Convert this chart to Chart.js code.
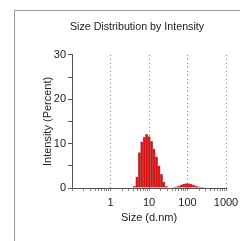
<!DOCTYPE html>
<html>
<head>
<meta charset="utf-8">
<script src="https://cdn.jsdelivr.net/npm/chart.js@4.4.1/dist/chart.umd.min.js"></script>
<style>
  html, body { margin: 0; padding: 0; background: #fff; }
  #wrap { position: relative; width: 240px; height: 241px; }
  #frame { position: absolute; left: 14px; top: 10px; width: 240px; height: 240px;
           border-top: 1px solid #9a9a9a; border-left: 1px solid #9a9a9a; }
  #chart-size { position: absolute; left: 0; top: 0; }
</style>
</head>
<body>
<div id="wrap">
  <div id="frame"></div>
  <canvas id="chart-size" width="240" height="241"></canvas>
</div>
<script>
// bin centres (d.nm) and intensity (%)
var sizes = [4.187, 4.849, 5.615, 6.503, 7.531, 8.721, 10.1, 11.7, 13.54, 15.69,
             18.17, 21.04, 24.36, 28.21, 32.67, 37.84, 43.82, 50.75, 58.77, 68.06,
             78.82, 91.28, 105.7, 122.4, 141.8, 164.2, 190.1, 220.2, 255.0];
var intensity = [0.4, 2.5, 8.0, 10.4, 11.5, 12.1, 11.6, 10.5, 8.8, 7.0,
                 5.0, 3.1, 1.4, 0.4, 0, 0, 0.1, 0.25, 0.45, 0.7,
                 0.9, 1.0, 1.0, 0.9, 0.7, 0.5, 0.3, 0.15, 0.05];
var xLabels = [1, 10, 100, 1000];
var yLabels = [0, 10, 20, 30];

Chart.defaults.font.family = "'Liberation Sans', Arial, sans-serif";
Chart.defaults.color = '#222';

function isDecade(v) {
    return xLabels.indexOf(Math.round(v * 1000) / 1000) !== -1;
}

var points = sizes.map(function(s, i) { return {x: s, y: intensity[i]}; });

var ctx = document.getElementById('chart-size');
var sizeChart = new Chart(ctx, {
    type: 'bar',
    data: {
        datasets: [{
            data: points,
            backgroundColor: '#dd1010',
            borderColor: 'rgba(110,0,0,0.5)',
            borderWidth: 0.6,
            barThickness: 'flex',
            barPercentage: 1,
            categoryPercentage: 1
        }]
    },
    options: {
        responsive: false,
        animation: false,
        layout: { padding: { left: 48, right: 14, top: 0, bottom: 16 } },
        plugins: {
            legend: { display: false },
            tooltip: { enabled: false },
            title: {
                display: true,
                text: 'Size Distribution by Intensity',
                font: { size: 10.7, weight: 'normal' },
                color: '#222',
                padding: { top: 21, bottom: 21 }
            }
        },
        scales: {
            x: {
                type: 'logarithmic',
                min: 0.1,
                max: 1000,
                offset: false,
                afterBuildTicks: function(axis) {
                    var t = [];
                    [0.1, 1, 10, 100].forEach(function(d) {
                        for (var k = 1; k < 10; k++) t.push({value: d * k});
                    });
                    t.push({value: 1000});
                    axis.ticks = t;
                },
                afterFit: function(scale) {
                    scale.height = 37;
                    scale.paddingLeft = 0;
                    scale.paddingRight = 0;
                },
                ticks: {
                    autoSkip: false,
                    maxRotation: 0,
                    padding: 5,
                    font: { size: 11 },
                    callback: function(v) { return isDecade(v) ? String(v) : ''; }
                },
                grid: {
                    offset: false,
                    drawOnChartArea: true,
                    color: function(c) {
                        return (c.tick && isDecade(c.tick.value)) ? '#777' : 'rgba(0,0,0,0)';
                    },
                    lineWidth: 1,
                    tickColor: '#888',
                    tickBorderDash: [],
                    tickLength: 3
                },
                border: { display: true, color: '#555', dash: [1, 3] },
                title: {
                    display: true,
                    text: 'Size (d.nm)',
                    font: { size: 11 },
                    padding: 0
                }
            },
            y: {
                min: 0,
                max: 30,
                afterFit: function(scale) { scale.width = 24; },
                ticks: {
                    stepSize: 5,
                    autoSkip: false,
                    padding: 2,
                    font: { size: 11 },
                    callback: function(v) { return yLabels.indexOf(v) !== -1 ? v : ''; }
                },
                grid: {
                    drawOnChartArea: false,
                    tickColor: '#555',
                    tickLength: 4
                },
                border: { display: true, color: '#555' },
                title: {
                    display: true,
                    text: 'Intensity (Percent)',
                    font: { size: 11 },
                    padding: { top: -7, bottom: 0 }
                }
            }
        }
    }
});
</script>
</body>
</html>
